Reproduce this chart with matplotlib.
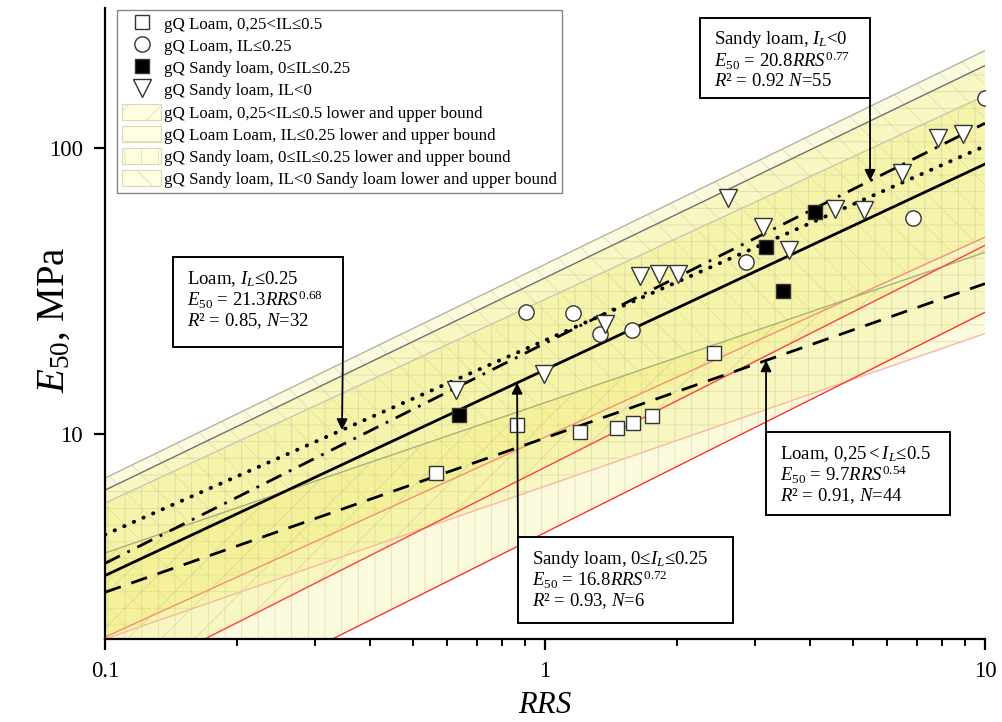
import numpy as np
import matplotlib
matplotlib.use("agg")
import matplotlib.pyplot as plt
from matplotlib.lines import Line2D
from matplotlib.patches import Patch, Rectangle

plt.rcParams['font.family'] = ['Liberation Serif', 'DejaVu Serif']
plt.rcParams['mathtext.fontset'] = 'custom'
plt.rcParams['mathtext.rm'] = 'Liberation Serif'
plt.rcParams['mathtext.it'] = 'Liberation Serif:italic'
plt.rcParams['mathtext.bf'] = 'Liberation Serif:bold'
plt.rcParams['hatch.linewidth'] = 0.6

# measured points
x_loam_soft = [0.565, 0.864, 1.20, 1.458, 1.585, 1.75, 2.42]
y_loam_soft = [7.31, 10.75, 10.16, 10.5, 10.9, 11.6, 19.2]
x_loam_stiff = [0.906, 1.158, 1.334, 1.577, 2.86, 6.86, 10.0]
y_loam_stiff = [26.7, 26.5, 22.5, 23.1, 39.9, 56.9, 150.7]
x_sandy_mid = [0.637, 3.18, 3.47, 4.11]
y_sandy_mid = [11.65, 45.1, 31.8, 59.7]
x_sandy_hard = [0.628, 0.995, 1.369, 1.644, 1.816, 2.005, 2.61, 3.13, 3.58,
                4.56, 5.31, 6.48, 7.82, 8.91]
y_sandy_hard = [14.3, 16.2, 24.3, 35.9, 36.5, 36.5, 66.8, 53.0, 44.0,
                61.6, 60.7, 81.8, 109.0, 112.7]

# power fits E50 = a * RRS^b
fit_a = {'loam_soft': 9.7, 'loam_stiff': 21.3, 'sandy_mid': 16.8, 'sandy_hard': 20.8}
fit_b = {'loam_soft': 0.54, 'loam_stiff': 0.68, 'sandy_mid': 0.72, 'sandy_hard': 0.77}

# bound values at RRS = 0.1 and RRS = 10
bound_x = [0.1, 10.0]
upper = {'sandy_hard': [7.02, 220.0], 'loam_stiff': [6.37, 195.0],
         'sandy_mid': [5.74, 153.0], 'loam_soft': [3.84, 43.3]}
lower = {'sandy_hard': [1.95, 48.9], 'loam_stiff': [1.92, 22.5],
         'sandy_mid': [0.767, 26.7], 'loam_soft': [1.28, 45.8]}

upper_color = {'sandy_hard': '#b4b4a4', 'loam_stiff': '#707070',
               'sandy_mid': '#c8c8b0', 'loam_soft': '#a8b080'}
lower_color = {'sandy_hard': '#f39070', 'loam_stiff': '#f8b8a0',
               'sandy_mid': '#ff3030', 'loam_soft': '#ff4040'}
hatches = {'loam_soft': '/', 'loam_stiff': '-', 'sandy_mid': '|', 'sandy_hard': '\\'}

legend_labels = [
    'gQ Loam, 0,25<IL≤0.5',
    'gQ Loam, IL≤0.25',
    'gQ Sandy loam, 0≤IL≤0.25',
    'gQ Sandy loam, IL<0',
    'gQ Loam, 0,25<IL≤0.5 lower and upper bound',
    'gQ Loam Loam, IL≤0.25 lower and upper bound',
    'gQ Sandy loam, 0≤IL≤0.25 lower and upper bound',
    'gQ Sandy loam, IL<0 Sandy loam lower and upper bound',
]

W, H = 1002, 722
fig = plt.figure(figsize=(W / 100, H / 100), dpi=100)
ax = fig.add_axes([105 / W, 1 - 639 / H, 880 / W, 631 / H])
ax.set_xscale('log')
ax.set_yscale('log')

band_face = (0.94, 0.925, 0.38, 0.22)
hatch_col = (0.72, 0.70, 0.55, 0.40)
for key in ['sandy_hard', 'loam_stiff', 'sandy_mid', 'loam_soft']:
    ax.fill_between(bound_x, lower[key], upper[key], facecolor=band_face,
                    edgecolor=hatch_col, linewidth=0, hatch=hatches[key], zorder=1)
    ax.plot(bound_x, upper[key], color=upper_color[key], lw=1.0, zorder=2)
    ax.plot(bound_x, lower[key], color=lower_color[key], lw=1.0, zorder=2)

xx = np.logspace(-1, 1, 100)
styles = {'loam_soft': (0, (6, 4)), 'loam_stiff': (0, (0.1, 2.6)), 'sandy_mid': '-',
          'sandy_hard': (0, (6, 3, 1, 3))}
widths = {'loam_soft': 2.0, 'loam_stiff': 2.8, 'sandy_mid': 2.0, 'sandy_hard': 2.0}
for key in fit_a:
    ax.plot(xx, fit_a[key] * xx ** fit_b[key], color='black', ls=styles[key],
            lw=widths[key], dash_capstyle='round' if key == 'loam_stiff' else 'butt',
            zorder=3)

mk = dict(ls='none', markeredgecolor='#333333', markeredgewidth=1.0, zorder=4)
ax.plot(x_loam_soft, y_loam_soft, marker='s', ms=10, markerfacecolor='white', **mk)
ax.plot(x_loam_stiff, y_loam_stiff, marker='o', ms=11, markerfacecolor='white', **mk)
ax.plot(x_sandy_mid, y_sandy_mid, marker='s', ms=10, markerfacecolor='black', **mk)
ax.plot(x_sandy_hard, y_sandy_hard, marker='v', ms=13, markerfacecolor='white', **mk)

ax.set_xlim(0.1, 10)
ax.set_ylim(1.92, 310)
ax.spines['top'].set_visible(False)
ax.spines['right'].set_visible(False)
ax.spines['left'].set_linewidth(1.6)
ax.spines['bottom'].set_linewidth(1.6)
ax.set_xticks([0.1, 1, 10])
ax.set_xticklabels(['0.1', '1', '10'])
ax.set_yticks([10, 100])
ax.set_yticklabels(['10', '100'])
ax.yaxis.set_minor_locator(matplotlib.ticker.NullLocator())
ax.tick_params(which='major', direction='out', length=8, width=1.6, labelsize=16.5, pad=8)
ax.tick_params(which='minor', direction='out', length=5, width=1.4)
ax.set_xlabel('$RRS$', fontsize=22, labelpad=6)
ax.set_ylabel('$E_{50}$, MPa', fontsize=28)
ax.yaxis.set_label_coords(-0.037, 0.506)

handles = [
    Line2D([], [], ls='none', marker='s', ms=10, mfc='white', mec='#333333'),
    Line2D([], [], ls='none', marker='o', ms=11, mfc='white', mec='#333333'),
    Line2D([], [], ls='none', marker='s', ms=10, mfc='black', mec='#333333'),
    Line2D([], [], ls='none', marker='v', ms=13, mfc='white', mec='#333333'),
]
for key in ['loam_soft', 'loam_stiff', 'sandy_mid', 'sandy_hard']:
    handles.append(Patch(facecolor='#fffee0', edgecolor='#ddd9b8', lw=0.8,
                         hatch=hatches[key]))
leg = fig.legend(handles, legend_labels, loc='upper left',
                 bbox_to_anchor=(117 / W, 1 - 10 / H), fontsize=12.2,
                 frameon=True, fancybox=False, framealpha=1, edgecolor='#888888',
                 labelspacing=0.25, handlelength=2.3, handleheight=1.1,
                 handletextpad=0.2, borderpad=0.3, borderaxespad=0)
leg.get_frame().set_linewidth(1.0)

# equation boxes: (left, top, right, bottom) in pixels from top-left, text lines
boxes = [
    ((700, 18, 870, 98), ['Sandy loam, $I_L$<0', '$E_{50}$ = 20.8$RRS^{0.77}$',
                          '$R$² = 0.92 $N$=55']),
    ((173, 257, 343, 347), ['Loam, $I_L$≤0.25', '$E_{50}$ = 21.3$RRS^{0.68}$',
                            '$R$² = 0.85, $N$=32']),
    ((766, 432, 950, 515), ['Loam, $\\mathit{0{,}25{<}I_L{≤}0.5}$',
                            '$E_{50}$ = 9.7$RRS^{0.54}$', '$R$² = 0.91, $N$=44']),
    ((518, 537, 733, 623), ['Sandy loam, 0≤$I_L$≤0.25', '$E_{50}$ = 16.8$RRS^{0.72}$',
                            '$R$² = 0.93, $N$=6']),
]
for (l, t, r, b), lines in boxes:
    fig.patches.append(Rectangle((l / W, 1 - b / H), (r - l) / W, (b - t) / H,
                                 transform=fig.transFigure, facecolor='white',
                                 edgecolor='black', lw=1.4, zorder=5))
    for i, s in enumerate(lines):
        fig.text((l + 14) / W, 1 - (t + 22 + 21 * i) / H, s, fontsize=13.5,
                 va='center', ha='left', zorder=6)

# arrows from box corners to the fitted lines
arrow_x = {'sandy_hard': 5.48, 'loam_stiff': 0.3456, 'loam_soft': 3.18, 'sandy_mid': 0.864}
arrow_start = {'sandy_hard': (870, 98), 'loam_stiff': (343, 347),
               'loam_soft': (766, 432), 'sandy_mid': (518, 537)}
for key, xa in arrow_x.items():
    sx, sy = arrow_start[key]
    ax.annotate('', xy=(xa, fit_a[key] * xa ** fit_b[key]), xycoords='data',
                xytext=(sx, H - sy), textcoords='figure pixels',
                arrowprops=dict(arrowstyle='-|>', color='black', lw=1.3,
                                mutation_scale=16, shrinkA=0, shrinkB=0),
                zorder=5, annotation_clip=False)

plt.savefig('out.png', dpi=100)
plt.close()
